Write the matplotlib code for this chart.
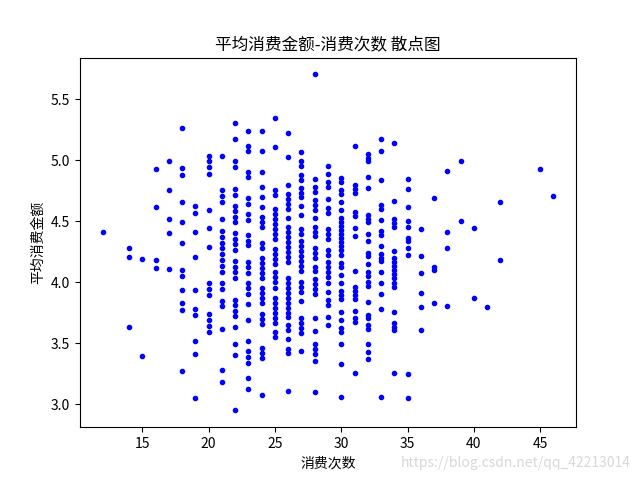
import matplotlib
matplotlib.use("Agg")
import matplotlib.pyplot as plt

plt.rcParams['font.family'] = ['Noto Sans CJK SC', 'DejaVu Sans']
plt.rcParams['axes.unicode_minus'] = False

# (visit count, list of average amounts) read column by column
col_12 = [4.407]
col_14 = [4.276, 4.202, 3.629]
col_15 = [4.186, 3.391]
col_16 = [4.924, 4.612, 4.178, 4.112]
col_17 = [4.99, 4.752, 4.514, 4.399, 4.104]
col_18 = [5.260, 4.932, 4.875, 4.653, 4.489, 4.317, 4.099, 4.049, 3.932, 3.825, 3.768, 3.268]
col_19 = [4.620, 4.563, 4.407, 4.202, 3.932, 3.776, 3.727, 3.514, 3.407, 3.047]
col_20 = [5.038, 4.989, 4.940, 4.883, 4.588, 4.440, 4.284, 3.989, 3.940, 3.891, 3.735, 3.686, 3.637, 3.588]
col_21 = [5.030, 4.752, 4.702, 4.653, 4.514, 4.416, 4.366, 4.317, 4.276, 4.227, 4.178, 4.129, 4.079,
          3.989, 3.940, 3.842, 3.801, 3.612, 3.276, 3.178]
col_22 = [5.301, 5.170, 4.989, 4.940, 4.760, 4.711, 4.620, 4.579, 4.530, 4.489, 4.399, 4.350, 4.309,
          4.260, 4.170, 4.120, 4.079, 4.030, 3.850, 3.809, 3.760, 3.719, 3.629, 3.489, 3.399, 2.948]
col_23 = [5.243, 5.120, 5.071, 4.899, 4.858, 4.686, 4.637, 4.555, 4.506, 4.383, 4.334, 4.301, 4.161,
          4.120, 4.071, 3.989, 3.948, 3.899, 3.817, 3.686, 3.514, 3.432, 3.383, 3.334, 3.211, 3.120]
col_24 = [5.235, 5.071, 4.899, 4.776, 4.694, 4.612, 4.530, 4.489, 4.448, 4.317, 4.276, 4.194, 4.153,
          4.112, 4.071, 4.030, 3.948, 3.907, 3.866, 3.825, 3.735, 3.694, 3.653, 3.456, 3.415, 3.375, 3.071]
col_25 = [5.342, 5.104, 4.752, 4.711, 4.596, 4.555, 4.514, 4.473, 4.432, 4.391, 4.350, 4.268, 4.227,
          4.186, 4.145, 4.079, 4.038, 3.997, 3.948, 3.866, 3.825, 3.784, 3.743, 3.702, 3.661, 3.588, 3.547]
col_26 = [5.219, 5.022, 4.793, 4.719, 4.678, 4.637, 4.596, 4.522, 4.448, 4.407, 4.366, 4.325, 4.284,
          4.243, 4.202, 4.161, 4.030, 3.989, 3.948, 3.907, 3.866, 3.825, 3.784, 3.743, 3.711, 3.645,
          3.604, 3.530, 3.448, 3.415, 3.104]
col_27 = [5.063, 4.989, 4.948, 4.875, 4.834, 4.768, 4.727, 4.694, 4.621, 4.547, 4.432, 4.391, 4.334,
          4.293, 4.252, 4.211, 4.170, 4.129, 4.088, 3.998, 3.957, 3.916, 3.842, 3.702, 3.662, 3.621,
          3.580, 3.432]
col_28 = [5.703, 4.842, 4.776, 4.735, 4.670, 4.629, 4.588, 4.522, 4.448, 4.407, 4.375, 4.276, 4.235,
          4.194, 4.121, 4.088, 4.022, 3.981, 3.940, 3.899, 3.702, 3.596, 3.489, 3.448, 3.407, 3.350, 3.096]
col_29 = [4.948, 4.883, 4.817, 4.776, 4.678, 4.604, 4.563, 4.432, 4.391, 4.350, 4.260, 4.219, 4.162,
          4.121, 4.080, 4.039, 3.989, 3.916, 3.850, 3.809, 3.711, 3.645]
col_30 = [4.850, 4.817, 4.752, 4.719, 4.653, 4.588, 4.522, 4.489, 4.457, 4.424, 4.391, 4.358, 4.325,
          4.293, 4.260, 4.219, 4.153, 4.120, 4.055, 3.989, 3.924, 3.891, 3.858, 3.752, 3.686, 3.621,
          3.588, 3.489, 3.325, 3.055]
col_31 = [5.112, 4.793, 4.760, 4.727, 4.571, 4.538, 4.440, 4.375, 4.088, 3.957, 3.924, 3.891, 3.858,
          3.760, 3.702, 3.670, 3.252]
col_32 = [5.047, 5.014, 4.989, 4.858, 4.768, 4.547, 4.514, 4.489, 4.391, 4.334, 4.235, 4.211, 4.145,
          4.079, 4.047, 3.997, 3.965, 3.834, 3.727, 3.702, 3.645, 3.612, 3.489, 3.424, 3.366]
col_33 = [5.170, 5.079, 4.834, 4.629, 4.596, 4.506, 4.416, 4.383, 4.292, 4.227, 4.194, 4.170, 4.079,
          3.989, 3.899, 3.776, 3.055]
col_34 = [5.137, 4.661, 4.514, 4.481, 4.448, 4.252, 4.194, 4.161, 4.129, 4.096, 4.063, 4.030, 3.989,
          3.957, 3.752, 3.661, 3.629, 3.604, 3.252]
col_35 = [4.842, 4.760, 4.612, 4.497, 4.448, 4.358, 4.334, 4.276, 4.219, 3.243, 3.047]
col_36 = [4.432, 4.211, 4.071, 3.907, 3.793, 3.604]
col_37 = [4.686, 4.120, 4.096, 3.825]
col_38 = [4.907, 4.407, 4.276, 3.801]
col_39 = [4.989, 4.497]
col_40 = [4.440, 3.866]
col_41 = [3.793]
col_42 = [4.653, 4.178]
col_45 = [4.924]
col_46 = [4.702]

visit_values = [12, 14, 15, 16, 17, 18, 19, 20, 21, 22, 23, 24, 25, 26, 27, 28, 29, 30,
                31, 32, 33, 34, 35, 36, 37, 38, 39, 40, 41, 42, 45, 46]
amount_columns = [col_12, col_14, col_15, col_16, col_17, col_18, col_19, col_20, col_21, col_22,
                  col_23, col_24, col_25, col_26, col_27, col_28, col_29, col_30, col_31, col_32,
                  col_33, col_34, col_35, col_36, col_37, col_38, col_39, col_40, col_41, col_42,
                  col_45, col_46]

xs, ys = [], []
for v, col in zip(visit_values, amount_columns):
    for a in col:
        xs.append(v)
        ys.append(a)

fig = plt.figure(figsize=(6.4, 4.8), dpi=100)
ax = fig.add_subplot(111)
ax.plot(xs, ys, 'b.', linestyle='none')
ax.set_title('平均消费金额-消费次数 散点图')
ax.set_xlabel('消费次数')
ax.set_ylabel('平均消费金额')

fig.text(0.985, 0.035, 'https://blog.csdn.net/qq_42213014', ha='right', va='center',
         fontsize=10, color='#d8d8d8')

fig.savefig('out.png', dpi=100)
